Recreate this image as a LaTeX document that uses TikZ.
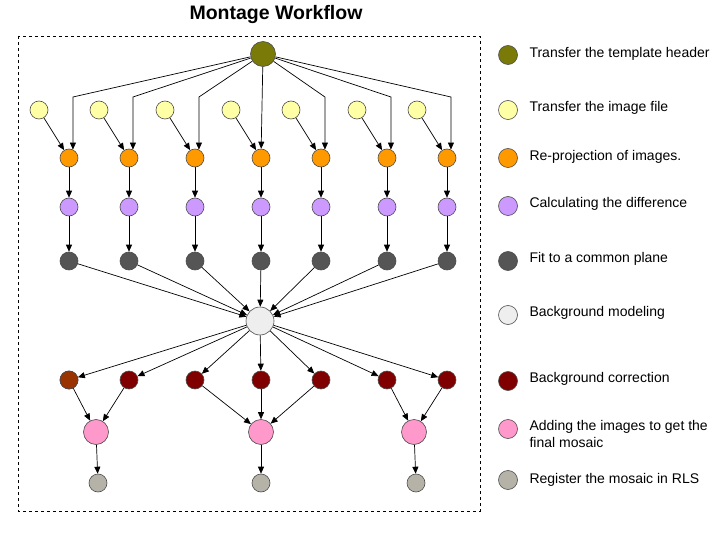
\documentclass[tikz,border=0pt]{standalone}
\usepackage{fontspec}
\setmainfont{Liberation Sans}
\usetikzlibrary{arrows.meta,positioning}

\definecolor{cheader}{HTML}{7A7A08}
\definecolor{cimage}{HTML}{FFFFA6}
\definecolor{cproj}{HTML}{FF9900}
\definecolor{cdiff}{HTML}{CC99FF}
\definecolor{cfit}{HTML}{555555}
\definecolor{cbg}{HTML}{EEEEEE}
\definecolor{ccorr}{HTML}{800000}
\definecolor{ccorrb}{HTML}{993300}
\definecolor{cadd}{HTML}{FF99CC}
\definecolor{creg}{HTML}{B5B2A8}

\begin{document}
\begin{tikzpicture}[x=1pt, y=-1pt,
		job/.style={circle, draw=black!70, line width=0.6pt, inner sep=0pt, minimum size=18pt},
		bigjob/.style={job, minimum size=25pt},
		edge/.style={-{Triangle[length=7pt,width=6pt]}, line width=0.7pt},
		legend/.style={anchor=west, font=\fontsize{14}{17}\selectfont, align=left}
	]
	\useasboundingbox (0,0) rectangle (720,540);

	% Title and frame
	\node[font=\fontsize{19.5}{22}\selectfont\bfseries] (title) at (276,15) {Montage Workflow};
	\draw[dashed, line width=0.6pt] (18,36) rectangle (480,511);

	% Header and background modeling
	\node[bigjob, fill=cheader] (top) at (263,54) {};
	\node[bigjob, fill=cbg, minimum size=28pt] (bg) at (260,321) {};
	\coordinate (bend) at (0,97);

	% Image columns
	\foreach \i/\x in {1/69,2/129,3/195,4/261,5/321,6/387,7/447} {
		\node[job, fill=cimage] (y\i) at (\x-30,110) {};
		\node[job, fill=cproj] (p\i) at (\x,158) {};
		\node[job, fill=cdiff] (d\i) at (\x,207) {};
		\node[job, fill=cfit] (f\i) at (\x,261) {};
		\node[job, fill=ccorr] (r\i) at (\x,380) {};
	}
	\node[job, fill=ccorrb] at (r1) {};

	% Mosaics
	\node[bigjob, fill=cadd] (m1) at (96,432) {};
	\node[bigjob, fill=cadd] (m2) at (261,432) {};
	\node[bigjob, fill=cadd] (m3) at (414,432) {};
	\node[job, fill=creg] (g1) at (98,483) {};
	\node[job, fill=creg] (g2) at (261,483) {};
	\node[job, fill=creg] (g3) at (416,483) {};

	% Connections
	\foreach \i in {1,2,3,5,6,7}
		\draw[edge] (top) -- (p\i.65 |- bend) -- (p\i.65);
	\draw[edge] (top) -- (p4);
	\foreach \i in {1,...,7} {
		\draw[edge] (y\i) -- (p\i);
		\draw[edge] (p\i) -- (d\i);
		\draw[edge] (d\i) -- (f\i);
		\draw[edge] (f\i) -- (bg);
		\draw[edge] (bg) -- (r\i);
	}
	\draw[edge] (r1) -- (m1);
	\draw[edge] (r2) -- (m1);
	\draw[edge] (r3) -- (m2);
	\draw[edge] (r4) -- (m2);
	\draw[edge] (r5) -- (m2);
	\draw[edge] (r6) -- (m3);
	\draw[edge] (r7) -- (m3);
	\draw[edge] (m1) -- (g1);
	\draw[edge] (m2) -- (g2);
	\draw[edge] (m3) -- (g3);

	% Legend
	\node[job, fill=cheader, minimum size=19pt] (k1) at (508,55) {};
	\node[job, fill=cimage, minimum size=19pt] (k2) at (508,110) {};
	\node[job, fill=cproj, minimum size=19pt] (k3) at (508,158) {};
	\node[job, fill=cdiff, minimum size=19pt] (k4) at (508,206) {};
	\node[job, fill=cfit, minimum size=19pt] (k5) at (508,261) {};
	\node[job, fill=cbg, minimum size=19pt] (k6) at (508,315) {};
	\node[job, fill=ccorr, minimum size=19pt] (k7) at (508,381) {};
	\node[job, fill=cadd, minimum size=19pt] (k8) at (508,429) {};
	\node[job, fill=creg, minimum size=19pt] (k9) at (508,480) {};
	\node[legend] at (526,54) {Transfer the template header};
	\node[legend] at (526,108) {Transfer the image file};
	\node[legend] at (526,157) {Re-projection of images.};
	\node[legend] at (526,204) {Calculating the difference};
	\node[legend] at (526,259) {Fit to a common plane};
	\node[legend] at (526,313) {Background modeling};
	\node[legend] at (526,379) {Background correction};
	\node[legend, anchor=north west] at (526,417) {Adding the images to get the\\final mosaic};
	\node[legend] at (526,480) {Register the mosaic in RLS};
\end{tikzpicture}
\end{document}
